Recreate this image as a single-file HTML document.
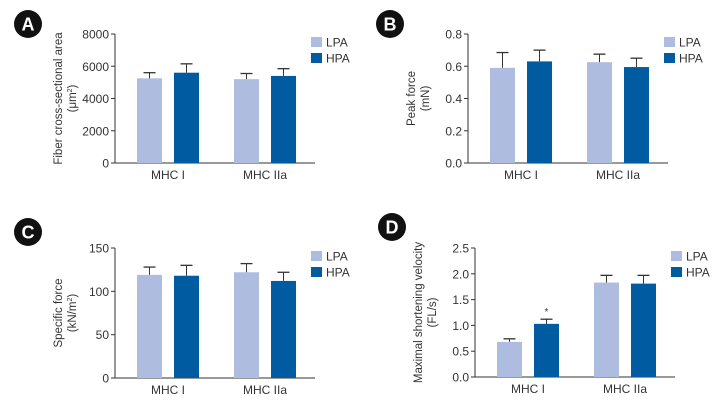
<!DOCTYPE html>
<html><head><meta charset="utf-8"><style>
body{margin:0;background:#fff;width:725px;height:406px;overflow:hidden}
svg text{font-family:"Liberation Sans",sans-serif;fill:#333}
</style></head><body>
<svg id="fig" width="725" height="406"></svg>
<script>
const categories=["MHC I","MHC IIa"];
const aLPA=[5250,5200], aLPAerr=[350,350], aHPA=[5600,5400], aHPAerr=[550,450];
const aTicks=[0,2000,4000,6000,8000];
const bLPA=[0.59,0.625], bLPAerr=[0.095,0.05], bHPA=[0.63,0.595], bHPAerr=[0.07,0.055];
const bTicks=["0.0","0.2","0.4","0.6","0.8"];
const cLPA=[119,122], cLPAerr=[9,10], cHPA=[118,112], cHPAerr=[12,10];
const cTicks=[0,50,100,150];
const dLPA=[0.68,1.83], dLPAerr=[0.06,0.14], dHPA=[1.03,1.81], dHPAerr=[0.09,0.16];
const dTicks=["0.0","0.5","1.0","1.5","2.0","2.5"];
const NS="http://www.w3.org/2000/svg",svg=document.getElementById('fig');
function el(t,a,p){const e=document.createElementNS(NS,t);for(const k in a)e.setAttribute(k,a[k]);(p||svg).appendChild(e);return e;}
const LC="#adbcdf",HC="#005ba1";
function panel(o){
 const g=el('g',{});
 
 
 const c=el('circle',{cx:o.bx,cy:o.by,r:14,fill:'#111'},g);
 
 const bt=el('text',{x:o.bx,y:o.by+6.5,'text-anchor':'middle','font-size':18,'font-weight':'bold',style:'fill:#fff'},g);bt.textContent=o.letter;
 const max=+o.ticks[o.ticks.length-1];
 const y=v=>o.y0-(v/max)*(o.y0-o.yt);
 const ax=el('line',{x1:o.ax,y1:o.yt,x2:o.ax,y2:o.y0,stroke:'#333','stroke-width':1},g);
 
 const xl=el('line',{x1:o.ax,y1:o.y0,x2:o.ax+200,y2:o.y0,stroke:'#333','stroke-width':1},g);
 
 o.ticks.forEach(t=>{const yy=y(+t);el('line',{x1:o.ax-4,y1:yy,x2:o.ax,y2:yy,stroke:'#333'},g);
  const tx=el('text',{x:o.ax-6,y:yy+4.5,'text-anchor':'end','font-size':12},g);tx.textContent=t;
  });
 const starts=[o.ax+22,o.ax+119];
 categories.forEach((cat,i)=>{
  [[o.lpa,o.lpae,LC,0],[o.hpa,o.hpae,HC,37]].forEach(([v,e,col,off])=>{
   const x=starts[i]+off,w=25;
   const ey=y(v[i]+e[i]);
   el('line',{x1:x+w/2,y1:ey,x2:x+w/2,y2:y(v[i]),stroke:'#333'},g);
   el('line',{x1:x+w/2-6,y1:ey,x2:x+w/2+6,y2:ey,stroke:'#333','stroke-width':1.3},g);
   const r=el('rect',{x:x,y:y(v[i]),width:w,height:o.y0-y(v[i]),fill:col},g);
   
   
  });
  const cl=el('text',{x:starts[i]+31,y:o.y0+16,'text-anchor':'middle','font-size':12},g);cl.textContent=cat;
  
 });
 if(o.star){const s=el('text',{x:starts[0]+49.5,y:y(o.hpa[0]+o.hpae[0])-4,'text-anchor':'middle','font-size':10},g);s.textContent='*';}
 const my=(o.yt+o.y0)/2;
 o.title.forEach((t,k)=>{const tx=el('text',{x:0,y:0,'text-anchor':'middle','font-size':11.5,transform:`translate(${o.ax-53+k*14+(2-o.title.length)*7},${my}) rotate(-90)`},g);
  tx.innerHTML=t;});
 [["LPA",LC],["HPA",HC]].forEach(([n,col],k)=>{
  const lg=el('g',{},g);
  el('rect',{x:o.ax+196,y:o.yt+3+k*16,width:11,height:10,fill:col},lg);
  const t=el('text',{x:o.ax+211,y:o.yt+12.5+k*16,'font-size':12},lg);t.textContent=n;});
}
panel({letter:'A',bx:28,by:24,ax:115,yt:34,y0:163,ticks:aTicks,lpa:aLPA,lpae:aLPAerr,hpa:aHPA,hpae:aHPAerr,title:['Fiber cross-sectional area','(μm<tspan font-size="7" dy="-4">2</tspan><tspan dy="4">)</tspan>']});
panel({letter:'B',bx:390,by:24,ax:468,yt:34,y0:163,ticks:bTicks,lpa:bLPA,lpae:bLPAerr,hpa:bHPA,hpae:bHPAerr,title:['Peak force','(mN)']});
panel({letter:'C',bx:28,by:232,ax:115,yt:248,y0:378,ticks:cTicks,lpa:cLPA,lpae:cLPAerr,hpa:cHPA,hpae:cHPAerr,title:['Specific force','(kN/m<tspan font-size="7" dy="-4">2</tspan><tspan dy="4">)</tspan>']});
panel({letter:'D',bx:392,by:227,ax:475,yt:248,y0:377,ticks:dTicks,lpa:dLPA,lpae:dLPAerr,hpa:dHPA,hpae:dHPAerr,star:true,title:['Maximal shortening velocity','(FL/s)']});
</script>
</body></html>
